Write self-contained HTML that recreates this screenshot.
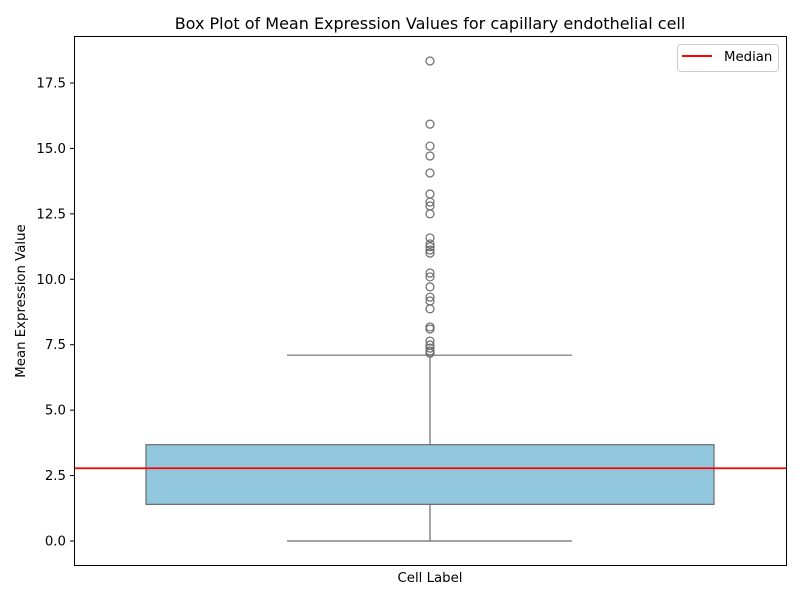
<!DOCTYPE html>
<html><head><meta charset="utf-8"><style>
body{margin:0;background:#fff;}
svg text{font-family:"DejaVu Sans","Liberation Sans",sans-serif;fill:#000;}
</style></head><body>
<svg id="chart" width="800" height="600" xmlns="http://www.w3.org/2000/svg">
<text x="430" y="29" font-size="16" text-anchor="middle">Box Plot of Mean Expression Values for capillary endothelial cell</text>
<text x="430" y="582" font-size="13.3" text-anchor="middle">Cell Label</text>
<text transform="translate(25,301) rotate(-90)" font-size="13.3" text-anchor="middle">Mean Expression Value</text>
<g id="plot"></g>
<rect x="74.5" y="36.5" width="712" height="529" fill="none" stroke="#000" stroke-width="1"/>
<g>
<rect x="677.5" y="44.5" width="101" height="27" rx="3" fill="#fff" stroke="#ccc"/>
<line x1="682" y1="56" x2="712" y2="56" stroke="red" stroke-width="2"/>
<text x="724" y="61" font-size="13.3">Median</text>
</g>
</svg>
<script>
const yTicks=[0,2.5,5,7.5,10,12.5,15,17.5];
const boxStats=[1.4,2.78,3.68]; // q1, median, q3
const whiskers=[0,7.1];
const outliers=[18.34,15.93,15.09,14.71,14.06,13.26,12.95,12.8,12.5,11.58,11.35,11.24,11.12,11.0,10.24,10.09,9.71,9.32,9.17,8.87,8.18,8.1,7.64,7.49,7.37,7.26,7.18];
const NS='http://www.w3.org/2000/svg';
const y=v=>541-v*(458/17.5);
const g=document.getElementById('plot');
function mk(t,a){const e=document.createElementNS(NS,t);for(const k in a)e.setAttribute(k,a[k]);g.appendChild(e);return e;}
yTicks.forEach(v=>{
 const l=mk('line',{x1:70,x2:74,y1:y(v),y2:y(v),stroke:'#000'});
 
 
 const t=mk('text',{x:66,y:y(v)+4.5,'font-size':13.3,'text-anchor':'end'});
 t.textContent=v.toFixed(1);
 
 
});
const cx=430;
const wl=mk('line',{x1:cx,x2:cx,y1:y(whiskers[0]),y2:y(boxStats[0]),stroke:'#6b6b6b','stroke-width':1.2});


const wu=mk('line',{x1:cx,x2:cx,y1:y(boxStats[2]),y2:y(whiskers[1]),stroke:'#6b6b6b','stroke-width':1.2});


whiskers.forEach(v=>{
 const c=mk('line',{x1:287,x2:572,y1:y(v),y2:y(v),stroke:'#6b6b6b','stroke-width':1.2});
 
 
});
const b=mk('rect',{x:146,width:568,y:y(boxStats[2]),height:y(boxStats[0])-y(boxStats[2]),fill:'#92c8dd',stroke:'#6b6b6b','stroke-width':1.2});


outliers.forEach(v=>{
 const c=mk('circle',{cx:cx,cy:y(v),r:4,fill:'none',stroke:'#6b6b6b','stroke-width':1.2});
 
 
});
const m=mk('line',{x1:74,x2:786,y1:y(boxStats[1]),y2:y(boxStats[1]),stroke:'red','stroke-width':1.8});


</script>
</body></html>
